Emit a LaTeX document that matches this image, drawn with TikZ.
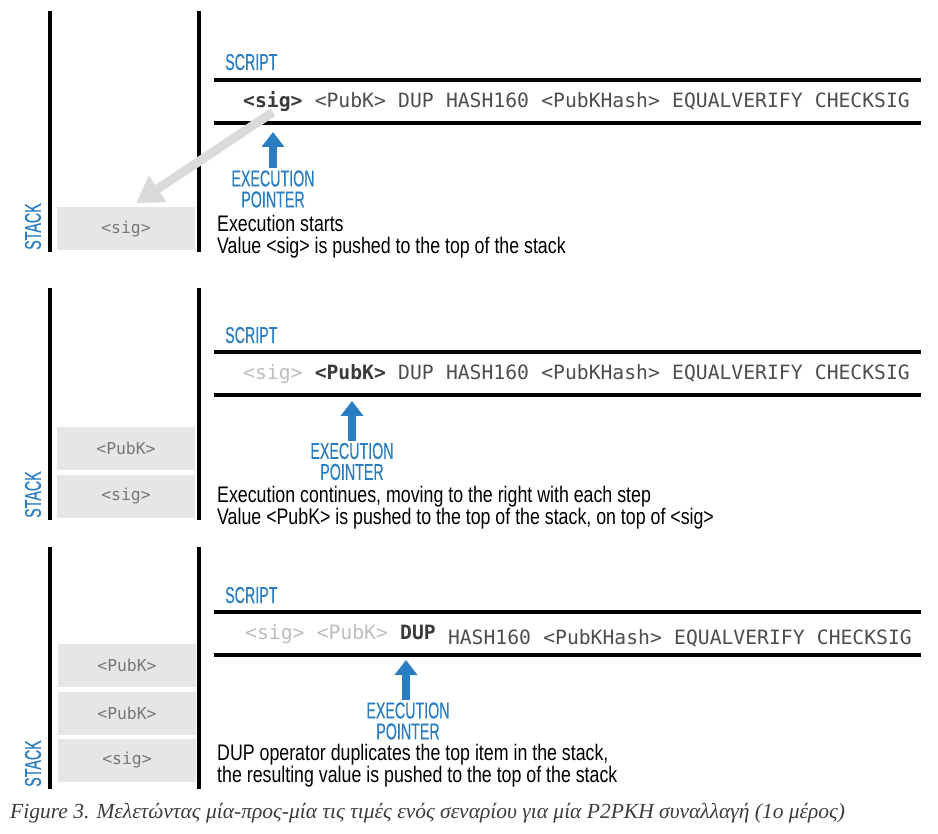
\documentclass[tikz,border=0pt]{standalone}
\usepackage{fontspec}
\usetikzlibrary{positioning,arrows.meta}

\newfontfamily\codefont{DejaVu Sans Mono}
\newfontfamily\bodyfont[FakeStretch=0.79]{Liberation Sans}
\newfontfamily\labelfont[FakeStretch=0.62,FakeBold=0.5]{Liberation Sans}
\newfontfamily\captionfont{Liberation Serif}

\definecolor{ptrblue}{HTML}{2A7DC0}
\definecolor{codegray}{HTML}{4D4D4D}
\definecolor{codedark}{HTML}{3A3A3A}
\definecolor{codelight}{HTML}{BDBDBD}
\definecolor{stackgray}{HTML}{777777}
\definecolor{boxgray}{HTML}{E6E6E6}
\definecolor{pushgray}{HTML}{DADADA}
\definecolor{capgray}{HTML}{3C3C3C}

\newcommand{\tokgap}{11.86pt}

\tikzset{
  rail/.style={line width=4.5pt},
  tok/.style={inner sep=0pt, text height=14pt, text depth=4pt,
    font=\codefont\fontsize{19.7}{22}\selectfont, text=codegray},
  curtok/.style={tok, font=\codefont\bfseries\fontsize{19.7}{22}\selectfont, text=codedark},
  donetok/.style={tok, text=codelight},
  stackbox/.style={fill=boxgray, minimum width=138pt, minimum height=43pt, inner sep=0pt,
    font=\codefont\fontsize{16.4}{18}\selectfont, text=stackgray},
  bluelabel/.style={font=\labelfont\fontsize{23}{21}\selectfont, text=ptrblue, inner sep=1pt},
  ptrlabel/.style={bluelabel, align=center, inner sep=2pt},
  ptrarrow/.style={draw=ptrblue, line width=8pt, -{Triangle[width=22pt,length=15pt]}},
  pusharrow/.style={draw=pushgray, line width=9pt, -{Triangle[width=30pt,length=26pt]}},
  note/.style={font=\bodyfont\fontsize{22.5}{22}\selectfont, align=left, inner sep=0pt}
}

\begin{document}
\begin{tikzpicture}[x=1pt,y=-1pt]
    \useasboundingbox (0,0) rectangle (938,834);

    % First step: <sig> is pushed
    \draw[rail] (50,11) -- (50,252);
    \draw[rail] (199,11) -- (199,252);
    \node[bluelabel, rotate=90, anchor=west] (stackA) at (33,251) {STACK};
    \node[stackbox] (boxA) at (126,229) {<sig>};

    \node[bluelabel, anchor=base west] (scriptA) at (224,70) {SCRIPT};
    \draw[rail] (214,80) -- (921,80);
    \draw[rail] (214,123) -- (921,123);
    \node[curtok, anchor=base west] (sigA) at (243,108) {<sig>};
    \node[tok, right=\tokgap of sigA] (pubA) {<PubK>};
    \node[tok, right=\tokgap of pubA] (dupA) {DUP};
    \node[tok, right=\tokgap of dupA] (hashA) {HASH160};
    \node[tok, right=\tokgap of hashA] (pkhA) {<PubKHash>};
    \node[tok, right=\tokgap of pkhA] (eqA) {EQUALVERIFY};
    \node[tok, right=\tokgap of eqA] (chkA) {CHECKSIG};

    \node[ptrlabel] (ptrA) at (273,189) {EXECUTION\\POINTER};
    \coordinate (tipA) at (273,132);
    \draw[ptrarrow] (ptrA.north) -- (tipA);
    \draw[pusharrow] (sigA.south) -- ([xshift=10pt,yshift=4pt]boxA.north);

    \node[note, anchor=west] (noteA) at (217,237) {Execution starts\\Value <sig> is pushed to the top of the stack};

    % Second step: <PubK> is pushed
    \draw[rail] (50,288) -- (50,520);
    \draw[rail] (199,288) -- (199,520);
    \node[bluelabel, rotate=90, anchor=west] (stackB) at (33,519) {STACK};
    \node[stackbox] (boxB1) at (126,448.5) {<PubK>};
    \node[stackbox] (boxB2) at (126,496.5) {<sig>};

    \node[bluelabel, anchor=base west] (scriptB) at (224,343) {SCRIPT};
    \draw[rail] (214,352) -- (921,352);
    \draw[rail] (214,395) -- (921,395);
    \node[donetok, anchor=base west] (sigB) at (243,380) {<sig>};
    \node[curtok, right=\tokgap of sigB] (pubB) {<PubK>};
    \node[tok, right=\tokgap of pubB] (dupB) {DUP};
    \node[tok, right=\tokgap of dupB] (hashB) {HASH160};
    \node[tok, right=\tokgap of hashB] (pkhB) {<PubKHash>};
    \node[tok, right=\tokgap of pkhB] (eqB) {EQUALVERIFY};
    \node[tok, right=\tokgap of eqB] (chkB) {CHECKSIG};

    \node[ptrlabel] (ptrB) at (352,461.5) {EXECUTION\\POINTER};
    \coordinate (tipB) at (352,401);
    \draw[ptrarrow] (ptrB.north) -- (tipB);

    \node[note, anchor=west] (noteB) at (217,508) {Execution continues, moving to the right with each step\\Value <PubK> is pushed to the top of the stack, on top of <sig>};

    % Third step: DUP
    \draw[rail] (50,547) -- (50,789);
    \draw[rail] (199,547) -- (199,789);
    \node[bluelabel, rotate=90, anchor=west] (stackC) at (33,788) {STACK};
    \node[stackbox] (boxC1) at (127,665) {<PubK>};
    \node[stackbox] (boxC2) at (127,713) {<PubK>};
    \node[stackbox] (boxC3) at (127,760.5) {<sig>};

    \node[bluelabel, anchor=base west] (scriptC) at (224,603) {SCRIPT};
    \draw[rail] (214,612) -- (921,612);
    \draw[rail] (214,655) -- (921,655);
    \node[donetok, anchor=base west] (sigC) at (245,639) {<sig>};
    \node[donetok, right=\tokgap of sigC] (pubC) {<PubK>};
    \node[curtok, right=\tokgap of pubC] (dupC) {DUP};
    \node[tok, right=\tokgap of dupC, yshift=-5pt] (hashC) {HASH160};
    \node[tok, right=\tokgap of hashC] (pkhC) {<PubKHash>};
    \node[tok, right=\tokgap of pkhC] (eqC) {EQUALVERIFY};
    \node[tok, right=\tokgap of eqC] (chkC) {CHECKSIG};

    \node[ptrlabel] (ptrC) at (408,721) {EXECUTION\\POINTER};
    \coordinate (tipC) at (406,660);
    \draw[ptrarrow] (ptrC.north -| tipC) -- (tipC);

    \node[note, anchor=west] (noteC) at (217,766) {DUP operator duplicates the top item in the stack,\\the resulting value is pushed to the top of the stack};

    % Caption
    \node[anchor=base west, inner sep=0pt, text=capgray, font=\captionfont\itshape\fontsize{21.5}{22}\selectfont] (caption) at (10,818) {Figure 3. Μελετώντας μία-προς-μία τις τιμές ενός σεναρίου για μία P2PKH συναλλαγή (1ο μέρος)};
\end{tikzpicture}
\end{document}
